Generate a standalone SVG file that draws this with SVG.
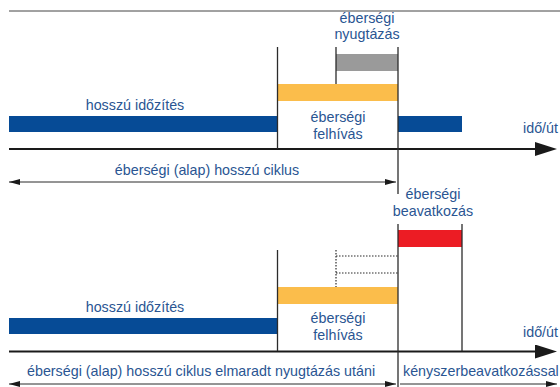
<svg xmlns="http://www.w3.org/2000/svg" width="560" height="387" viewBox="0 0 560 387">
  <defs>
    <style>
      .lbl { font-family: "Liberation Sans", Arial, sans-serif; font-size: 14.3px; fill: #2a5592; }
      .mid { text-anchor: middle; }
      .axis { stroke: #1a1a1a; stroke-width: 2.2; fill: none; }
      .tick { stroke: #2b2b2b; stroke-width: 1.3; fill: none; }
      .dim { stroke: #2b2b2b; stroke-width: 1; fill: none; }
      .dot { stroke: #2b2b2b; stroke-width: 1.2; stroke-dasharray: 1.5 1.5; fill: none; }
      .blue { fill: #064b96; }
      .orange { fill: #fbbd4b; }
      .gray { fill: #9a9a9a; }
      .red { fill: #ec1c24; }
    </style>
    <marker id="axisHead" viewBox="0 0 22 14" refX="0" refY="7" markerWidth="22" markerHeight="14" markerUnits="userSpaceOnUse" orient="auto">
      <path d="M0,0 L22,7 L0,14 Z" fill="#1a1a1a"/>
    </marker>
    <marker id="dimHead" viewBox="0 0 11 6" refX="11" refY="3" markerWidth="11" markerHeight="6" markerUnits="userSpaceOnUse" orient="auto-start-reverse">
      <path d="M0,0 L11,3 L0,6 Z" fill="#1a1a1a"/>
    </marker>
  </defs>

  <rect width="560" height="387" fill="#ffffff"/>
  <line x1="9" y1="11" x2="560" y2="11" stroke="#444" stroke-width="1"/>

  <!-- upper timeline: normal cycle with acknowledgement -->
  <g id="top-timer">
    <rect class="blue" x="9" y="116" width="269" height="16"/>
    <text class="lbl mid" x="135" y="110">hosszú időzítés</text>
  </g>
  <g id="top-warning">
    <rect class="orange" x="278" y="84" width="120" height="17"/>
    <text class="lbl mid" x="338" y="122">éberségi</text>
    <text class="lbl mid" x="338" y="139">felhívás</text>
  </g>
  <g id="top-ack">
    <rect class="gray" x="336" y="54" width="62" height="17"/>
    <text class="lbl mid" x="367" y="23">éberségi</text>
    <text class="lbl mid" x="367" y="39">nyugtázás</text>
  </g>
  <g id="top-timer-restart">
    <rect class="blue" x="398" y="116" width="64" height="16"/>
  </g>
  <g id="top-axis-label">
    <text class="lbl" x="523" y="133">idő/út</text>
  </g>
  <g id="top-cycle-label">
    <text class="lbl mid" x="207" y="175">éberségi (alap) hosszú ciklus</text>
  </g>

  <!-- lower timeline: missed acknowledgement, forced intervention -->
  <g id="bottom-timer">
    <rect class="blue" x="9" y="318" width="269" height="16"/>
    <text class="lbl mid" x="135" y="312">hosszú időzítés</text>
  </g>
  <g id="bottom-warning">
    <rect class="orange" x="278" y="287" width="120" height="17"/>
    <text class="lbl mid" x="338" y="323">éberségi</text>
    <text class="lbl mid" x="338" y="340">felhívás</text>
  </g>
  <g id="bottom-missing-ack">
    <path class="dot" d="M336,250 V287 M336,256 H398 M336,273 H398"/>
  </g>
  <g id="bottom-intervention">
    <rect class="red" x="398" y="230" width="64" height="17"/>
    <text class="lbl mid" x="433" y="199">éberségi</text>
    <text class="lbl mid" x="433" y="216">beavatkozás</text>
  </g>
  <g id="bottom-axis-label">
    <text class="lbl" x="523" y="337">idő/út</text>
  </g>
  <g id="bottom-cycle-labels">
    <text class="lbl" x="27" y="376">éberségi (alap) hosszú ciklus elmaradt nyugtázás utáni</text>
    <text class="lbl" x="403" y="376">kényszerbeavatkozással</text>
  </g>

  <g id="connectors">
    <!-- time axes -->
    <line class="axis" x1="9" y1="149" x2="535" y2="149" marker-end="url(#axisHead)"/>
    <line class="axis" x1="9" y1="351.5" x2="535" y2="351.5" marker-end="url(#axisHead)"/>
    <!-- upper event markers -->
    <line class="tick" x1="277.5" y1="47" x2="277.5" y2="149"/>
    <line class="tick" x1="336" y1="47" x2="336" y2="84"/>
    <line class="tick" x1="398" y1="47" x2="398" y2="194"/>
    <!-- lower event markers -->
    <line class="tick" x1="277.5" y1="250" x2="277.5" y2="351"/>
    <line class="tick" x1="398" y1="224" x2="398" y2="387"/>
    <line class="tick" x1="462" y1="224" x2="462" y2="351"/>
    <!-- cycle span arrows -->
    <line class="dim" x1="9" y1="182" x2="396" y2="182" marker-start="url(#dimHead)" marker-end="url(#dimHead)"/>
    <line class="dim" x1="9" y1="384" x2="396" y2="384" marker-start="url(#dimHead)" marker-end="url(#dimHead)"/>
    <line class="dim" x1="400" y1="384" x2="557" y2="384" marker-end="url(#dimHead)"/>
  </g>
</svg>
